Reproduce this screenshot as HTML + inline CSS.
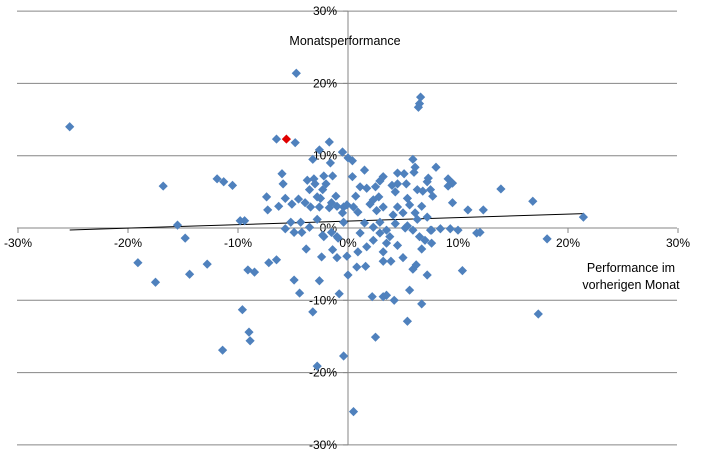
<!DOCTYPE html>
<html><head><meta charset="utf-8">
<style>
html,body{margin:0;padding:0;background:#fff;}
svg{display:block;font-family:"Liberation Sans",sans-serif;}
</style></head>
<body>
<svg id="chart" width="701" height="458" viewBox="0 0 701 458" xmlns="http://www.w3.org/2000/svg">
<g id="grid"></g>
<g id="axes"></g>
<g id="trend"></g>
<g id="pts"></g>
<text x="345" y="45" font-size="12.5" text-anchor="middle" fill="#000">Monatsperformance</text>
<text x="631" y="272" font-size="12.5" text-anchor="middle" fill="#000">Performance im</text>
<text x="631" y="289" font-size="12.5" text-anchor="middle" fill="#000">vorherigen Monat</text>
</svg>
<script>
const xTicks=[-30,-20,-10,0,10,20,30];
const yTicks=[30,20,10,0,-10,-20,-30];
const xVals=[-25.3,-4.7,6.6,6.5,6.4,-6.5,-4.8,-1.7,-2.6,-3.2,-1.6,-0.5,-16.8,-11.9,-11.3,-10.5,-7.4,-7.3,-6.0,-5.9,-5.7,-6.3,-5.1,-4.5,-3.9,-3.7,-3.1,-3.0,-3.5,-3.4,-2.8,-2.5,-2.6,-2.2,-2.0,-1.4,-2.3,-1.1,-1.7,-1.5,-1.0,-0.4,-15.5,-14.8,-9.8,-9.4,-5.7,-5.2,-4.9,-4.3,-4.2,-2.8,-3.5,-2.2,-1.0,-0.4,-19.1,-17.5,-14.4,-12.8,-9.1,-8.5,-7.2,-6.5,-3.8,-2.4,-4.9,-4.4,-2.6,-0.8,-3.2,-9.6,-9.0,-8.9,-11.4,-2.8,-0.4,0.5,0.0,0.8,1.6,2.2,3.2,3.5,4.2,5.6,6.7,5.4,2.5,7.2,5.9,6.2,5.0,3.9,3.2,6.7,-1.4,-1.0,-0.1,-1.5,-0.9,-2.3,0.9,1.7,2.3,3.2,3.5,3.8,4.5,2.9,6.5,7.0,7.6,7.5,8.4,9.3,5.9,5.2,-0.5,0.0,0.4,0.4,1.5,5.9,6.1,6.0,8.0,4.5,5.1,3.2,2.9,7.3,7.2,9.1,9.5,9.1,4.0,4.5,5.3,2.5,1.1,1.7,6.3,6.8,7.5,7.7,4.3,0.7,5.4,2.8,2.3,2.0,3.2,4.5,5.6,6.7,9.5,10.9,12.3,13.9,16.8,21.4,-0.1,0.5,0.9,2.6,4.1,5.0,6.1,7.2,1.5,2.9,4.3,5.4,6.3,7.6,10.0,11.7,12.0,18.1,-0.5,2.3,3.5,1.1,10.4,17.3];
const yVals=[14.0,21.4,18.1,17.2,16.7,12.3,11.8,11.9,10.8,9.5,9.0,10.5,5.8,6.8,6.4,5.9,4.3,2.5,7.5,6.1,4.1,3.0,3.3,4.0,3.5,6.6,6.8,6.1,5.3,2.9,4.3,4.1,2.9,7.2,6.1,7.2,5.3,4.4,2.8,3.5,3.0,2.9,0.4,-1.4,1.0,1.0,-0.1,0.8,-0.6,0.8,-0.6,1.2,0.1,-1.2,-1.2,0.8,-4.8,-7.5,-6.4,-5.0,-5.8,-6.1,-4.8,-4.4,-2.9,-4.0,-7.2,-9.0,-7.3,-9.1,-11.6,-11.3,-14.4,-15.6,-16.9,-19.1,-17.7,-25.4,-6.5,-5.4,-5.3,-9.5,-9.5,-9.3,-10.0,-8.6,-10.5,-12.9,-15.1,-6.5,-5.7,-5.1,-4.1,-4.6,-4.6,-2.9,-3.0,-4.1,-3.9,-0.6,-1.4,-1.0,-3.3,-2.6,-1.7,-3.3,-2.1,-1.2,-2.4,-0.7,-1.2,-1.7,-2.1,-0.3,-0.1,-0.1,-0.3,0.0,10.5,9.7,9.3,7.1,8.0,9.5,8.4,7.7,8.4,7.6,7.5,7.1,6.5,6.9,6.4,6.8,6.2,5.8,5.9,6.1,6.1,5.7,5.7,5.5,5.3,5.1,5.3,4.4,5.0,4.4,4.1,4.3,3.9,3.3,2.9,2.9,3.2,3.0,3.5,2.5,2.5,5.4,3.7,1.5,3.2,2.9,2.2,2.4,1.8,2.1,2.1,1.5,0.7,0.8,0.6,0.3,1.2,-0.3,-0.3,-0.7,-0.6,-1.5,2.1,0.1,-0.3,-0.7,-5.9,-11.9];
const highlightX=[-5.6];
const highlightY=[12.3];

const NS="http://www.w3.org/2000/svg";
const xScale=v=>348+v*11;
const yScale=v=>228-v*7.23;
function mk(tag,attrs,parent){const e=document.createElementNS(NS,tag);for(const k in attrs)e.setAttribute(k,attrs[k]);parent.appendChild(e);return e;}
const grid=document.getElementById('grid'),axes=document.getElementById('axes'),pts=document.getElementById('pts'),trend=document.getElementById('trend');

yTicks.forEach(t=>{
  if(t!==0){const l=mk('line',{x1:17,x2:677,y1:yScale(t),y2:yScale(t),stroke:'#868686','stroke-width':1},grid);
  
  }
  const tx=mk('text',{x:337,y:yScale(t)+4,'font-size':12,'text-anchor':'end',fill:'#000'},axes);
  tx.textContent=t+'%';
  
  
});
const xa=mk('line',{x1:17,x2:677,y1:yScale(0),y2:yScale(0),stroke:'#868686','stroke-width':1},axes);


const ya=mk('line',{x1:xScale(0),x2:xScale(0),y1:yScale(30),y2:yScale(-30),stroke:'#868686','stroke-width':1},axes);


xTicks.forEach(t=>{
  const tk=mk('line',{x1:xScale(t),x2:xScale(t),y1:yScale(0),y2:yScale(0)+5,stroke:'#868686'},axes);
  
  
  const tx=mk('text',{x:xScale(t),y:yScale(0)+19,'font-size':12,'text-anchor':'middle',fill:'#000'},axes);
  tx.textContent=t+'%';
  
  
});
yTicks.forEach(t=>{
  const tk=mk('line',{x1:xScale(0)-5,x2:xScale(0),y1:yScale(t),y2:yScale(t),stroke:'#868686'},axes);
  
  
});

function diamond(x,y,c,name){
  const cx=xScale(x),cy=yScale(y),r=4.6;
  const p=mk('polygon',{points:`${cx},${cy-r} ${cx+r},${cy} ${cx},${cy+r} ${cx-r},${cy}`,fill:c},pts);
  
  
}
xVals.forEach((x,i)=>diamond(x,yVals[i],'#4f81bd','data-point'));

// trendline via least squares
const allX=xVals.concat(highlightX),allY=yVals.concat(highlightY);
const n=allX.length;
const mx=allX.reduce((a,b)=>a+b,0)/n,my=allY.reduce((a,b)=>a+b,0)/n;
let sxy=0,sxx=0;allX.forEach((x,i)=>{sxy+=(x-mx)*(allY[i]-my);sxx+=(x-mx)*(x-mx);});
const slope=sxy/sxx,icpt=my-slope*mx;
const x0=Math.min(...allX),x1=Math.max(...allX);
const tl=mk('line',{x1:xScale(x0),y1:yScale(icpt+slope*x0),x2:xScale(x1),y2:yScale(icpt+slope*x1),stroke:'#000','stroke-width':1},trend);



highlightX.forEach((x,i)=>diamond(x,highlightY[i],'#e00000','highlight-point'));
</script>
</body></html>
